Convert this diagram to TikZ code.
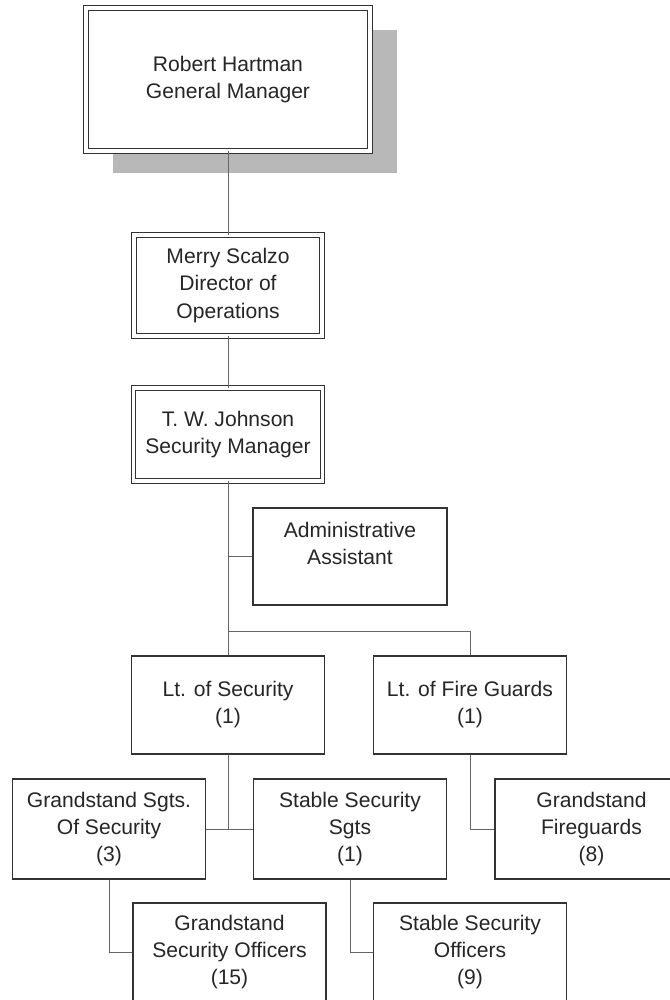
\documentclass[tikz,border=0pt]{standalone}
\usepackage{fontspec}
\setmainfont{Liberation Sans}
\usetikzlibrary{shadows}
\begin{document}
\begin{tikzpicture}[
    box/.style={rectangle,draw=black!80,line width=0.6pt,fill=white,align=center,text=black!85,
        font=\fontsize{12}{15.4}\selectfont,minimum width=3.86cm,minimum height=1.96cm},
    dbox/.style={box,double,double distance=0.07cm,line width=0.5pt},
    link/.style={draw=black!60,line width=0.5pt}
]
    \useasboundingbox (0,0) rectangle (13.4,-20);
    \clip (0,0) rectangle (13.4,-20);

    % Top of the chart
    \node[dbox,minimum width=5.68cm,minimum height=2.86cm,
          drop shadow={shadow xshift=0.54cm,shadow yshift=-0.44cm,fill=black!28,opacity=1}]
          (gm) at (4.56,-1.59) {Robert Hartman\\General Manager};
    \node[dbox,minimum width=3.76cm,minimum height=2.02cm] (dir) at (4.56,-5.71) {Merry Scalzo\\Director of\\Operations};
    \node[dbox,minimum width=3.78cm,minimum height=1.86cm] (sec) at (4.56,-8.69) {T. W. Johnson\\Security Manager};

    % Staff
    \node[box,minimum width=3.88cm,minimum height=1.94cm] (admin) at (7.0,-11.13) {Administrative\\Assistant\\~};

    % Lieutenants
    \node[box] (ltsec) at (4.56,-14.10) {Lt. of Security\\(1)};
    \node[box] (ltfire) at (9.40,-14.10) {Lt. of Fire Guards\\(1)};

    % Sergeants
    \node[box,minimum height=2.0cm] (gsgt) at (2.18,-16.58) {Grandstand Sgts.\\Of Security\\(3)};
    \node[box,minimum height=2.0cm] (ssgt) at (7.00,-16.58) {Stable Security\\Sgts\\(1)};
    \node[box,minimum height=2.0cm] (gfire) at (11.83,-16.58) {Grandstand\\Fireguards\\(8)};

    % Officers
    \node[box] (gofc) at (4.59,-19.04) {Grandstand\\Security Officers\\(15)};
    \node[box] (sofc) at (9.40,-19.04) {Stable Security\\Officers\\(9)};

    % Lines
    \coordinate (fork) at (4.56,-12.62);
    \draw[link] (gm.south) -- (dir.north);
    \draw[link] (dir.south) -- (sec.north);
    \draw[link] (sec.south) -- (ltsec.north);
    \draw[link] (admin.west) -- (admin.west -| sec.south);
    \draw[link] (fork) -| (ltfire.north);
    \draw[link] (ltsec.south) |- (gsgt.east);
    \draw[link] (ltsec.south) |- (ssgt.west);
    \draw[link] (ltfire.south) |- (gfire.west);
    \draw[link] (gsgt.south) |- (gofc.west);
    \draw[link] (ssgt.south) |- (sofc.west);
\end{tikzpicture}
\end{document}
